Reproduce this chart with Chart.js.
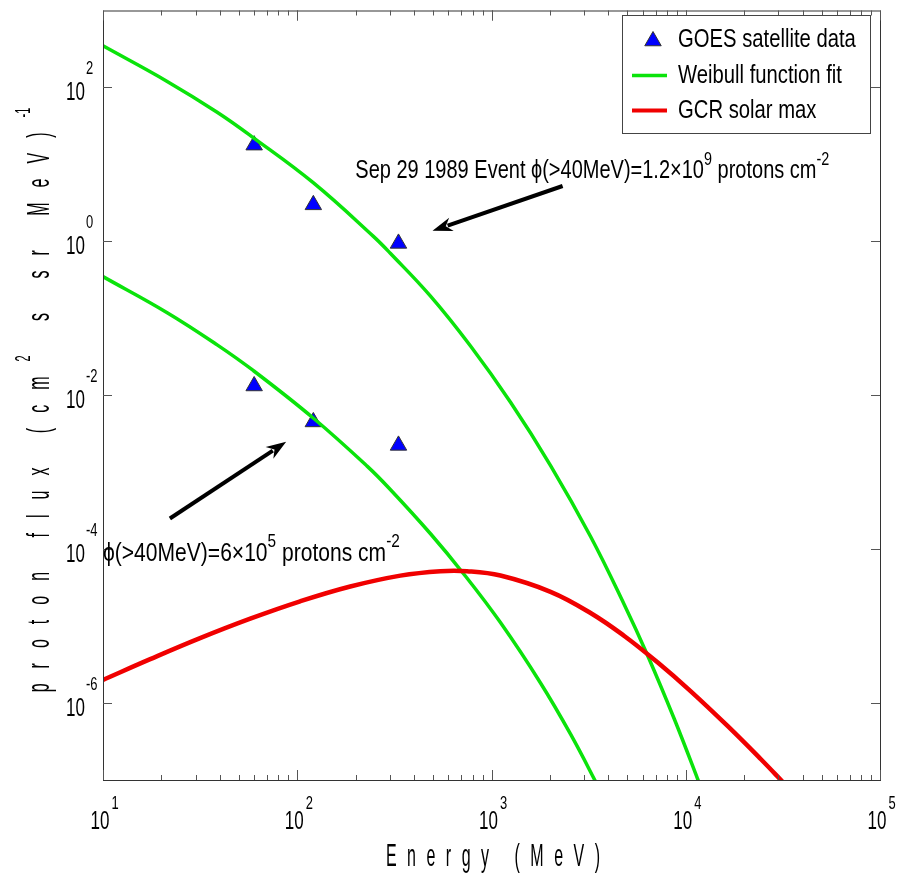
<!DOCTYPE html>
<html>
<head>
<meta charset="utf-8">
<script src="https://cdn.jsdelivr.net/npm/chart.js@4.4.1/dist/chart.umd.min.js"></script>
<style>
  html, body { margin: 0; padding: 0; background: #fff; }
  #wrap { width: 909px; height: 880px; position: relative; }
</style>
</head>
<body>
<div id="wrap"><canvas id="chart"></canvas></div>
<script>
// GOES satellite points (MeV, flux) for the two events
const goesEnergy = [60, 121, 332];
const goesFluxSep = [17.8, 2.98, 0.94];
const goesFluxSmall = [0.0132, 0.0045, 0.00223];

// Weibull fit, Sep 29 1989 event
const sepEnergy = [10, 21.4, 38.7, 59.3, 120.8, 246.6, 301.3, 485.3, 779.8, 1253, 2014, 3236, 4808, 6339, 8710, 11480, 13180];
const sepFlux = [347, 119.7, 47.6, 22.3, 5.78, 1.16, 0.70, 0.194, 0.0436, 0.00810, 0.00122, 1.46e-4, 1.94e-5, 4.25e-6, 6.3e-7, 1.05e-7, 4.1e-8];

// Weibull fit, small event
const smallEnergy = [10, 21.4, 38.7, 59.3, 120.8, 229.6, 301.3, 485.3, 719.5, 1112, 1791, 2553, 3436, 3981];
const smallFlux = [0.348, 0.1183, 0.0452, 0.0210, 0.00506, 0.00119, 5.96e-4, 1.585e-4, 4.76e-5, 1.11e-5, 1.81e-6, 3.94e-7, 9.5e-8, 4.5e-8];

// GCR solar max spectrum
const gcrEnergy = [10, 17.5, 31.6, 57.3, 103.5, 187.5, 339.6, 545.8, 748, 1112, 2014, 3236, 4808, 7129, 10620, 16410, 24380, 31480, 35480];
const gcrFlux = [2.0e-6, 3.72e-6, 6.98e-6, 1.25e-5, 2.10e-5, 3.27e-5, 4.53e-5, 5.18e-5, 5.18e-5, 4.54e-5, 2.79e-5, 1.48e-5, 7.5e-6, 3.41e-6, 1.42e-6, 5.04e-7, 1.86e-7, 9.5e-8, 6.9e-8];

// Axis ticks
const xTicks = [10, 100, 1000, 10000, 100000];
const xTickExp = ["1", "2", "3", "4", "5"];
const yTicks = [1e-6, 1e-4, 1e-2, 1, 100];
const yTickExp = ["-6", "-4", "-2", "0", "2"];

const GREEN = "#0be30b";
const RED = "#f00000";
const FONT = '"Liberation Sans", Arial, sans-serif';

const pts = (xs, ys) => xs.map((x, i) => ({ x, y: ys[i] }));

// draw text runs with optional superscripts, condensed horizontally
function drawRuns(ctx, runs, x, y, o, dry) {
  let cx = x;
  const gap = o.gap || 0;
  runs.forEach(r => {
    const fs = r.sup ? o.supSize : o.size;
    ctx.font = fs + "px " + FONT;
    const yy = r.sup ? y - o.rise : y;
    const parts = gap && !r.sup ? Array.from(r.t) : [r.t];
    parts.forEach(ch => {
      if (!dry) {
        ctx.save();
        ctx.translate(cx, yy);
        ctx.scale(o.sx, 1);
        ctx.fillText(ch, 0, 0);
        ctx.restore();
      }
      cx += ctx.measureText(ch).width * o.sx + gap;
    });
  });
  return cx - x - gap;
}

function arrow(ctx, x0, y0, x1, y1) {
  const a = Math.atan2(y1 - y0, x1 - x0);
  const len = 20, hw = 7;
  ctx.save();
  ctx.strokeStyle = "#000";
  ctx.fillStyle = "#000";
  ctx.lineWidth = 4;
  ctx.beginPath();
  ctx.moveTo(x0, y0);
  ctx.lineTo(x1 - Math.cos(a) * len * 0.8, y1 - Math.sin(a) * len * 0.8);
  ctx.stroke();
  ctx.beginPath();
  ctx.moveTo(x1, y1);
  ctx.lineTo(x1 - Math.cos(a) * len - Math.sin(a) * hw, y1 - Math.sin(a) * len + Math.cos(a) * hw);
  ctx.lineTo(x1 - Math.cos(a) * len * 0.7, y1 - Math.sin(a) * len * 0.7);
  ctx.lineTo(x1 - Math.cos(a) * len + Math.sin(a) * hw, y1 - Math.sin(a) * len - Math.cos(a) * hw);
  ctx.closePath();
  ctx.fill();
  ctx.restore();
}

function triangle(ctx, x, y, r) {
  ctx.beginPath();
  ctx.moveTo(x, y - r);
  ctx.lineTo(x + r * Math.sqrt(3) / 2, y + r / 2);
  ctx.lineTo(x - r * Math.sqrt(3) / 2, y + r / 2);
  ctx.closePath();
  ctx.fillStyle = "#0000ff";
  ctx.fill();
  ctx.strokeStyle = "#333";
  ctx.lineWidth = 1;
  ctx.stroke();
}

// Frame, inward ticks, labels, legend and annotations
const decorations = {
  id: "decorations",
  afterDatasetsDraw(chart) {
    const { ctx, chartArea: a, scales: { x, y } } = chart;
    ctx.save();
    ctx.textBaseline = "middle";
    ctx.textAlign = "left";

    // box
    ctx.strokeStyle = "#333";
    ctx.lineWidth = 1;
    ctx.strokeRect(a.left + 0.5, a.top + 0.5, a.right - a.left, a.bottom - a.top);

    // x ticks (major + minor, top and bottom), y ticks left and right
    ctx.strokeStyle = "#555";
    ctx.beginPath();
    for (let d = 10; d < 1e5; d *= 10) {
      for (let m = 1; m <= 10; m++) {
        const px = Math.round(x.getPixelForValue(d * m)) + 0.5;
        const len = (m === 1 || m === 10) ? 10 : 5;
        ctx.moveTo(px, a.bottom); ctx.lineTo(px, a.bottom - len);
        ctx.moveTo(px, a.top); ctx.lineTo(px, a.top + len);
      }
    }
    yTicks.forEach(v => {
      const py = Math.round(y.getPixelForValue(v)) + 0.5;
      ctx.moveTo(a.left, py); ctx.lineTo(a.left + 9, py);
      ctx.moveTo(a.right, py); ctx.lineTo(a.right - 9, py);
    });
    ctx.stroke();

    // tick labels
    ctx.fillStyle = "#000";
    const tk = { size: 25, sx: 0.68 };
    const ex = { size: 18, sx: 0.72 };
    xTicks.forEach((v, i) => {
      const px = x.getPixelForValue(v);
      const w = drawRuns(ctx, [{ t: "10" }], 0, 0, tk, true);
      drawRuns(ctx, [{ t: "10" }], px - 3 - w / 2, 822, tk);
      drawRuns(ctx, [{ t: xTickExp[i] }], px - 3 + w / 2 + 2, 804, ex);
    });
    yTicks.forEach((v, i) => {
      const py = y.getPixelForValue(v);
      const w = drawRuns(ctx, [{ t: "10" }], 0, 0, tk, true);
      drawRuns(ctx, [{ t: "10" }], 85 - w, py + 6, tk);
      drawRuns(ctx, [{ t: yTickExp[i] }], 86, py - 18, ex);
    });

    // axis titles
    const tt = { size: 32, sx: 0.5, gap: 10.5 };
    const xt = [{ t: "Energy (MeV)" }];
    const xw = drawRuns(ctx, xt, 0, 0, tt, true);
    drawRuns(ctx, xt, 493 - xw / 2, 857, tt);

    const yt = [{ t: "proton flux (cm" }, { t: "2", sup: true }, { t: " s sr MeV)" }, { t: "-1", sup: true }];
    const yo = { size: 32, supSize: 22, rise: 16, sx: 0.5, gap: 15 };
    const yw = drawRuns(ctx, yt, 0, 0, yo, true);
    ctx.save();
    ctx.translate(40, 400);
    ctx.rotate(-Math.PI / 2);
    drawRuns(ctx, yt, -yw / 2, 0, yo);
    ctx.restore();

    // annotations (anchored in data coordinates)
    const an = { size: 25, supSize: 18, rise: 11, sx: 0.8 };
    drawRuns(ctx, [{ t: "Sep 29 1989 Event \u03D5(>40MeV)=1.2\u00D710" }, { t: "9", sup: true },
      { t: " protons cm" }, { t: "-2", sup: true }],
      x.getPixelForValue(199), y.getPixelForValue(8.2), an);
    drawRuns(ctx, [{ t: "\u03D5(>40MeV)=6\u00D710" }, { t: "5", sup: true },
      { t: " protons cm" }, { t: "-2", sup: true }],
      x.getPixelForValue(10), y.getPixelForValue(8.6e-5), { size: 26, supSize: 19, rise: 12, sx: 0.81 });

    arrow(ctx, x.getPixelForValue(2323), y.getPixelForValue(5.24),
      x.getPixelForValue(497), y.getPixelForValue(1.37));
    arrow(ctx, x.getPixelForValue(22.1), y.getPixelForValue(2.5e-4),
      x.getPixelForValue(87.7), y.getPixelForValue(2.48e-3));

    // legend
    ctx.fillStyle = "#fff";
    ctx.fillRect(622, 15, 248, 118);
    ctx.strokeStyle = "#444";
    ctx.lineWidth = 1;
    ctx.strokeRect(622.5, 15.5, 248, 118);
    triangle(ctx, 653, 41, 9.5);
    ctx.lineWidth = 3.5;
    ctx.strokeStyle = GREEN;
    ctx.beginPath(); ctx.moveTo(632, 75.5); ctx.lineTo(667, 75.5); ctx.stroke();
    ctx.lineWidth = 4;
    ctx.strokeStyle = RED;
    ctx.beginPath(); ctx.moveTo(632, 110.5); ctx.lineTo(667, 110.5); ctx.stroke();
    ctx.fillStyle = "#000";
    const lg = { size: 25, sx: 0.81 };
    drawRuns(ctx, [{ t: "GOES satellite data" }], 678, 40, lg);
    drawRuns(ctx, [{ t: "Weibull function fit" }], 678, 76, lg);
    drawRuns(ctx, [{ t: "GCR solar max" }], 678, 111, lg);

    ctx.restore();
  }
};

const lineDs = (label, xs, ys, color, w) => ({
  label, data: pts(xs, ys), showLine: true, borderColor: color, borderWidth: w,
  pointRadius: 0, tension: 0.4, fill: false
});

const goesDs = (ys) => ({
  label: "GOES satellite data", data: pts(goesEnergy, ys), showLine: false,
  pointStyle: "triangle", pointRadius: 9.5, backgroundColor: "#0000ff",
  borderColor: "#333", borderWidth: 1
});

new Chart(document.getElementById("chart"), {
  type: "scatter",
  data: {
    datasets: [
      lineDs("GCR solar max", gcrEnergy, gcrFlux, RED, 4.5),
      lineDs("Weibull function fit", sepEnergy, sepFlux, GREEN, 3.5),
      lineDs("Weibull function fit", smallEnergy, smallFlux, GREEN, 3.5),
      goesDs(goesFluxSep),
      goesDs(goesFluxSmall)
    ]
  },
  options: {
    responsive: true,
    maintainAspectRatio: false,
    animation: false,
    devicePixelRatio: 1,
    layout: { padding: { left: 103, right: 29, top: 5, bottom: 100 } },
    plugins: { legend: { display: false }, tooltip: { enabled: false } },
    scales: {
      x: { type: "logarithmic", min: 10, max: 100000, display: false },
      y: { type: "logarithmic", min: 1e-7, max: 1000, display: false }
    }
  },
  plugins: [decorations]
});
</script>
</body>
</html>
